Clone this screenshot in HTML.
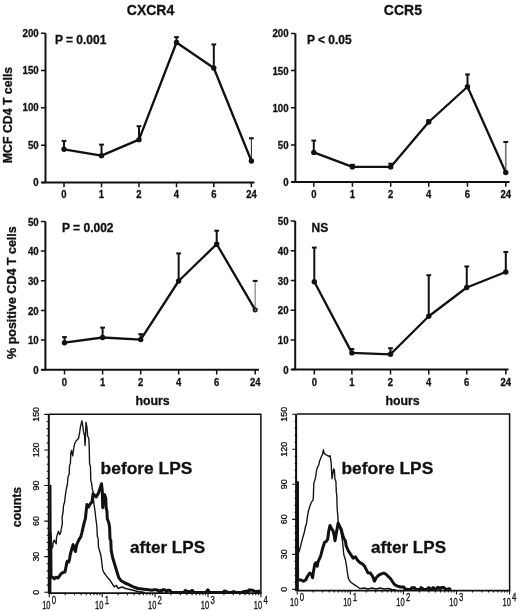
<!DOCTYPE html><html><head><meta charset="utf-8"><style>
html,body{margin:0;padding:0;background:#fff;width:520px;height:611px;overflow:hidden}
svg{display:block;filter:blur(0.3px)}
text{font-family:"Liberation Sans", sans-serif;fill:#111;stroke:#111;stroke-width:0.3px}
.tk{font-weight:bold;font-size:10.3px}
.ti{font-weight:bold;font-size:14px}
.pv{font-weight:bold;font-size:12px}
.ax{font-weight:bold;font-size:12.3px}
.lp{font-weight:bold;font-size:17px}
.hn{font-size:8.9px}
.hx{font-size:10px;stroke:#111;stroke-width:0.3px}
.hs{font-size:10.4px;stroke:#111;stroke-width:0.3px}
</style></head><body>
<svg width="520" height="611" viewBox="0 0 520 611">
<text x="150.5" y="14.9" text-anchor="middle" class="ti">CXCR4</text>
<text x="402.9" y="14.9" text-anchor="middle" class="ti">CCR5</text>
<path d="M45.5 33.2V182.5M41.5 182.5H254.5" stroke="#111" stroke-width="2" fill="none"/>
<path d="M41 182.5H45.5M41 145.18H45.5M41 107.85H45.5M41 70.52H45.5M41 33.2H45.5" stroke="#111" stroke-width="1.5"/>
<path d="M64 182.5V187.3M101.5 182.5V187.3M139 182.5V187.3M176.5 182.5V187.3M213.8 182.5V187.3M251.4 182.5V187.3" stroke="#111" stroke-width="1.5"/>
<text transform="translate(38.7 185.9) scale(0.94 1)" text-anchor="end" class="tk">0</text>
<text transform="translate(38.7 148.58) scale(0.94 1)" text-anchor="end" class="tk">50</text>
<text transform="translate(38.7 111.25) scale(0.94 1)" text-anchor="end" class="tk">100</text>
<text transform="translate(38.7 73.92) scale(0.94 1)" text-anchor="end" class="tk">150</text>
<text transform="translate(38.7 36.6) scale(0.94 1)" text-anchor="end" class="tk">200</text>
<text transform="translate(64 198.4) scale(0.92 1)" text-anchor="middle" class="tk">0</text>
<text transform="translate(101.5 198.4) scale(0.92 1)" text-anchor="middle" class="tk">1</text>
<text transform="translate(139 198.4) scale(0.92 1)" text-anchor="middle" class="tk">2</text>
<text transform="translate(176.5 198.4) scale(0.92 1)" text-anchor="middle" class="tk">4</text>
<text transform="translate(213.8 198.4) scale(0.92 1)" text-anchor="middle" class="tk">6</text>
<text transform="translate(251.4 198.4) scale(0.92 1)" text-anchor="middle" class="tk">24</text>
<path d="M64 149.28V140.7" stroke="#111" stroke-width="2"/>
<path d="M61.6 140.9H66.4" stroke="#111" stroke-width="2"/>
<path d="M101.5 155.63V144.43" stroke="#111" stroke-width="2"/>
<path d="M99.1 144.63H103.9" stroke="#111" stroke-width="2"/>
<path d="M139 139.65V125.99" stroke="#111" stroke-width="2"/>
<path d="M136.6 126.19H141.4" stroke="#111" stroke-width="2"/>
<path d="M176.5 42.53V36.93" stroke="#111" stroke-width="2"/>
<path d="M174.1 37.13H178.9" stroke="#111" stroke-width="2"/>
<path d="M213.8 67.99V44.25" stroke="#111" stroke-width="2"/>
<path d="M211.4 44.45H216.2" stroke="#111" stroke-width="2"/>
<path d="M251.4 161V138.08" stroke="#333" stroke-width="1.1"/>
<path d="M249 138.28H253.8" stroke="#111" stroke-width="2"/>
<polyline points="64,149.28 101.5,155.63 139,139.65 176.5,42.53 213.8,67.99 251.4,161" fill="none" stroke="#111" stroke-width="2.3" stroke-linejoin="round"/>
<circle cx="64" cy="149.28" r="2.7" fill="#111"/>
<circle cx="101.5" cy="155.63" r="2.7" fill="#111"/>
<circle cx="139" cy="139.65" r="2.7" fill="#111"/>
<circle cx="176.5" cy="42.53" r="2.7" fill="#111"/>
<circle cx="213.8" cy="67.99" r="2.7" fill="#111"/>
<circle cx="251.4" cy="161" r="2.7" fill="#111"/>
<text x="54.9" y="44" class="pv">P = 0.001</text>
<text transform="translate(12.1 115) rotate(-90)" text-anchor="middle" class="ax">MCF CD4 T cells</text>
<path d="M295.4 33.5V182M291.5 182H509.5" stroke="#111" stroke-width="2" fill="none"/>
<path d="M290.9 182H295.4M290.9 144.88H295.4M290.9 107.75H295.4M290.9 70.62H295.4M290.9 33.5H295.4" stroke="#111" stroke-width="1.5"/>
<path d="M313.8 182V186.8M352.4 182V186.8M390.7 182V186.8M428.75 182V186.8M467.5 182V186.8M505.75 182V186.8" stroke="#111" stroke-width="1.5"/>
<text transform="translate(288.6 185.9) scale(0.94 1)" text-anchor="end" class="tk">0</text>
<text transform="translate(288.6 148.78) scale(0.94 1)" text-anchor="end" class="tk">50</text>
<text transform="translate(288.6 111.65) scale(0.94 1)" text-anchor="end" class="tk">100</text>
<text transform="translate(288.6 74.52) scale(0.94 1)" text-anchor="end" class="tk">150</text>
<text transform="translate(288.6 37.4) scale(0.94 1)" text-anchor="end" class="tk">200</text>
<text transform="translate(313.8 197.9) scale(0.92 1)" text-anchor="middle" class="tk">0</text>
<text transform="translate(352.4 197.9) scale(0.92 1)" text-anchor="middle" class="tk">1</text>
<text transform="translate(390.7 197.9) scale(0.92 1)" text-anchor="middle" class="tk">2</text>
<text transform="translate(428.75 197.9) scale(0.92 1)" text-anchor="middle" class="tk">4</text>
<text transform="translate(467.5 197.9) scale(0.92 1)" text-anchor="middle" class="tk">6</text>
<text transform="translate(505.75 197.9) scale(0.92 1)" text-anchor="middle" class="tk">24</text>
<path d="M313.8 152.4V140.4" stroke="#111" stroke-width="2"/>
<path d="M311.4 140.6H316.2" stroke="#111" stroke-width="2"/>
<path d="M352.4 166.9V164.6" stroke="#111" stroke-width="2"/>
<path d="M350 164.8H354.8" stroke="#111" stroke-width="2"/>
<path d="M390.7 166.9V163.5" stroke="#111" stroke-width="2"/>
<path d="M388.3 163.7H393.1" stroke="#111" stroke-width="2"/>
<path d="M428.75 122V120" stroke="#111" stroke-width="2"/>
<path d="M426.35 120.2H431.15" stroke="#111" stroke-width="2"/>
<path d="M467.5 86.75V74.25" stroke="#111" stroke-width="2"/>
<path d="M465.1 74.45H469.9" stroke="#111" stroke-width="2"/>
<path d="M505.75 172.5V141.75" stroke="#777" stroke-width="1.7"/>
<path d="M503.35 141.95H508.15" stroke="#111" stroke-width="2"/>
<polyline points="313.8,152.4 352.4,166.9 390.7,166.9 428.75,122 467.5,86.75 505.75,172.5" fill="none" stroke="#111" stroke-width="2.3" stroke-linejoin="round"/>
<circle cx="313.8" cy="152.4" r="2.7" fill="#111"/>
<circle cx="352.4" cy="166.9" r="2.7" fill="#111"/>
<circle cx="390.7" cy="166.9" r="2.7" fill="#111"/>
<circle cx="428.75" cy="122" r="2.7" fill="#111"/>
<circle cx="467.5" cy="86.75" r="2.7" fill="#111"/>
<circle cx="505.75" cy="172.5" r="2.7" fill="#111"/>
<text x="306.9" y="43.8" class="pv">P &lt; 0.05</text>
<path d="M45.4 221.4V369.8M41.5 369.8H259" stroke="#111" stroke-width="2" fill="none"/>
<path d="M40.9 369.8H45.4M40.9 340.12H45.4M40.9 310.44H45.4M40.9 280.76H45.4M40.9 251.08H45.4M40.9 221.4H45.4" stroke="#111" stroke-width="1.5"/>
<path d="M64.5 369.8V374.6M102.6 369.8V374.6M140.7 369.8V374.6M178.65 369.8V374.6M216.7 369.8V374.6M255.2 369.8V374.6" stroke="#111" stroke-width="1.5"/>
<text transform="translate(38.7 373.9) scale(0.94 1)" text-anchor="end" class="tk">0</text>
<text transform="translate(38.7 344.22) scale(0.94 1)" text-anchor="end" class="tk">10</text>
<text transform="translate(38.7 314.54) scale(0.94 1)" text-anchor="end" class="tk">20</text>
<text transform="translate(38.7 284.86) scale(0.94 1)" text-anchor="end" class="tk">30</text>
<text transform="translate(38.7 255.18) scale(0.94 1)" text-anchor="end" class="tk">40</text>
<text transform="translate(38.7 225.5) scale(0.94 1)" text-anchor="end" class="tk">50</text>
<text transform="translate(64.5 386.3) scale(0.92 1)" text-anchor="middle" class="tk">0</text>
<text transform="translate(102.6 386.3) scale(0.92 1)" text-anchor="middle" class="tk">1</text>
<text transform="translate(140.7 386.3) scale(0.92 1)" text-anchor="middle" class="tk">2</text>
<text transform="translate(178.65 386.3) scale(0.92 1)" text-anchor="middle" class="tk">4</text>
<text transform="translate(216.7 386.3) scale(0.92 1)" text-anchor="middle" class="tk">6</text>
<text transform="translate(255.2 386.3) scale(0.92 1)" text-anchor="middle" class="tk">24</text>
<path d="M64.5 342.7V336.9" stroke="#111" stroke-width="2"/>
<path d="M62.1 337.1H66.9" stroke="#111" stroke-width="2"/>
<path d="M102.6 337.5V327.4" stroke="#111" stroke-width="2"/>
<path d="M100.2 327.6H105" stroke="#111" stroke-width="2"/>
<path d="M140.7 339.6V334" stroke="#111" stroke-width="2"/>
<path d="M138.3 334.2H143.1" stroke="#111" stroke-width="2"/>
<path d="M178.65 281V253.2" stroke="#111" stroke-width="2"/>
<path d="M176.25 253.4H181.05" stroke="#111" stroke-width="2"/>
<path d="M216.7 244.1V230.5" stroke="#111" stroke-width="2"/>
<path d="M214.3 230.7H219.1" stroke="#111" stroke-width="2"/>
<path d="M255.2 309.8V280.7" stroke="#999" stroke-width="1.5"/>
<path d="M252.8 280.9H257.6" stroke="#111" stroke-width="2"/>
<polyline points="64.5,342.7 102.6,337.5 140.7,339.6 178.65,281 216.7,244.1 255.2,309.8" fill="none" stroke="#111" stroke-width="2.3" stroke-linejoin="round"/>
<circle cx="64.5" cy="342.7" r="2.7" fill="#111"/>
<circle cx="102.6" cy="337.5" r="2.7" fill="#111"/>
<circle cx="140.7" cy="339.6" r="2.7" fill="#111"/>
<circle cx="178.65" cy="281" r="2.7" fill="#111"/>
<circle cx="216.7" cy="244.1" r="2.7" fill="#111"/>
<circle cx="255.2" cy="309.8" r="2.6" fill="#222"/>
<circle cx="255.6" cy="310.1" r="0.8" fill="#999"/>
<text x="62" y="231.8" class="pv">P = 0.002</text>
<text transform="translate(16.3 292.6) rotate(-90)" text-anchor="middle" class="ax" style="font-size:12.5px">% positive CD4 T cells</text>
<text x="152.5" y="404.6" text-anchor="middle" class="ax">hours</text>
<path d="M295.2 221.1V369.6M291.5 369.6H508.5" stroke="#111" stroke-width="2" fill="none"/>
<path d="M290.7 369.6H295.2M290.7 339.9H295.2M290.7 310.2H295.2M290.7 280.5H295.2M290.7 250.8H295.2M290.7 221.1H295.2" stroke="#111" stroke-width="1.5"/>
<path d="M314.3 369.6V374.4M351.9 369.6V374.4M390.5 369.6V374.4M428.75 369.6V374.4M466.75 369.6V374.4M505.8 369.6V374.4" stroke="#111" stroke-width="1.5"/>
<text transform="translate(288.6 373.6) scale(0.94 1)" text-anchor="end" class="tk">0</text>
<text transform="translate(288.6 343.9) scale(0.94 1)" text-anchor="end" class="tk">10</text>
<text transform="translate(288.6 314.2) scale(0.94 1)" text-anchor="end" class="tk">20</text>
<text transform="translate(288.6 284.5) scale(0.94 1)" text-anchor="end" class="tk">30</text>
<text transform="translate(288.6 254.8) scale(0.94 1)" text-anchor="end" class="tk">40</text>
<text transform="translate(288.6 225.1) scale(0.94 1)" text-anchor="end" class="tk">50</text>
<text transform="translate(314.3 385.9) scale(0.92 1)" text-anchor="middle" class="tk">0</text>
<text transform="translate(351.9 385.9) scale(0.92 1)" text-anchor="middle" class="tk">1</text>
<text transform="translate(390.5 385.9) scale(0.92 1)" text-anchor="middle" class="tk">2</text>
<text transform="translate(428.75 385.9) scale(0.92 1)" text-anchor="middle" class="tk">4</text>
<text transform="translate(466.75 385.9) scale(0.92 1)" text-anchor="middle" class="tk">6</text>
<text transform="translate(505.8 385.9) scale(0.92 1)" text-anchor="middle" class="tk">24</text>
<path d="M314.3 281.8V247.4" stroke="#111" stroke-width="2"/>
<path d="M311.9 247.6H316.7" stroke="#111" stroke-width="2"/>
<path d="M351.9 352.9V348.8" stroke="#111" stroke-width="2"/>
<path d="M349.5 349H354.3" stroke="#111" stroke-width="2"/>
<path d="M390.5 354.3V348" stroke="#111" stroke-width="2"/>
<path d="M388.1 348.2H392.9" stroke="#111" stroke-width="2"/>
<path d="M428.75 316.25V275" stroke="#111" stroke-width="2"/>
<path d="M426.35 275.2H431.15" stroke="#111" stroke-width="2"/>
<path d="M466.75 287.5V266.25" stroke="#111" stroke-width="2"/>
<path d="M464.35 266.45H469.15" stroke="#111" stroke-width="2"/>
<path d="M505.8 272V251.75" stroke="#111" stroke-width="2"/>
<path d="M503.4 251.95H508.2" stroke="#111" stroke-width="2"/>
<polyline points="314.3,281.8 351.9,352.9 390.5,354.3 428.75,316.25 466.75,287.5 505.8,272" fill="none" stroke="#111" stroke-width="2.3" stroke-linejoin="round"/>
<circle cx="314.3" cy="281.8" r="2.7" fill="#111"/>
<circle cx="351.9" cy="352.9" r="2.7" fill="#111"/>
<circle cx="390.5" cy="354.3" r="2.7" fill="#111"/>
<circle cx="428.75" cy="316.25" r="2.7" fill="#111"/>
<circle cx="466.75" cy="287.5" r="2.7" fill="#111"/>
<circle cx="505.8" cy="272" r="2.7" fill="#111"/>
<text x="311.6" y="231.8" class="pv">NS</text>
<text x="402.5" y="404.6" text-anchor="middle" class="ax">hours</text>
<path d="M48.8 414.2V593.8" stroke="#111" stroke-width="2.0"/>
<path d="M49.3 414.2H260.9V593.2" stroke="#111" stroke-width="1.5" fill="none"/>
<path d="M49.3 593.2H261.6" stroke="#111" stroke-width="1.8" fill="none"/>
<path d="M44.3 592.2H49.3M46.7 585.09H49.3M46.7 577.98H49.3M46.7 570.86H49.3M46.7 563.75H49.3M44.3 556.64H49.3M46.7 549.53H49.3M46.7 542.42H49.3M46.7 535.3H49.3M46.7 528.19H49.3M44.3 521.08H49.3M46.7 513.97H49.3M46.7 506.86H49.3M46.7 499.74H49.3M46.7 492.63H49.3M44.3 485.52H49.3M46.7 478.41H49.3M46.7 471.3H49.3M46.7 464.18H49.3M46.7 457.07H49.3M44.3 449.96H49.3M46.7 442.85H49.3M46.7 435.74H49.3M46.7 428.62H49.3M46.7 421.51H49.3M44.3 414.4H49.3" stroke="#111" stroke-width="1.1"/>
<path d="M49.3 593.2V597.2M65.22 593.2V595.2M74.54 593.2V595.2M81.15 593.2V595.2M86.28 593.2V595.2M90.46 593.2V595.2M94.01 593.2V595.2M97.07 593.2V595.2M99.78 593.2V595.2M102.2 593.2V597.2M118.12 593.2V595.2M127.44 593.2V595.2M134.05 593.2V595.2M139.18 593.2V595.2M143.36 593.2V595.2M146.91 593.2V595.2M149.97 593.2V595.2M152.68 593.2V595.2M155.1 593.2V597.2M171.02 593.2V595.2M180.34 593.2V595.2M186.95 593.2V595.2M192.08 593.2V595.2M196.26 593.2V595.2M199.81 593.2V595.2M202.87 593.2V595.2M205.58 593.2V595.2M208 593.2V597.2M223.92 593.2V595.2M233.24 593.2V595.2M239.85 593.2V595.2M244.98 593.2V595.2M249.16 593.2V595.2M252.71 593.2V595.2M255.77 593.2V595.2M258.48 593.2V595.2M260.9 593.2V597.2" stroke="#111" stroke-width="1.1"/>
<text transform="translate(39.4 592.2) rotate(-90)" text-anchor="middle" class="hn">0</text>
<text transform="translate(39.4 556.64) rotate(-90)" text-anchor="middle" class="hn">30</text>
<text transform="translate(39.4 521.08) rotate(-90)" text-anchor="middle" class="hn">60</text>
<text transform="translate(39.4 485.52) rotate(-90)" text-anchor="middle" class="hn">90</text>
<text transform="translate(39.4 449.96) rotate(-90)" text-anchor="middle" class="hn">120</text>
<text transform="translate(39.4 414.4) rotate(-90)" text-anchor="middle" class="hn">150</text>
<text transform="translate(50.5 608.9) scale(0.75 1)" text-anchor="end" class="hx">10</text>
<text transform="translate(51.8 603.9) scale(0.75 1)" class="hs">0</text>
<text transform="translate(103.4 608.9) scale(0.75 1)" text-anchor="end" class="hx">10</text>
<text transform="translate(104.7 603.9) scale(0.75 1)" class="hs">1</text>
<text transform="translate(156.3 608.9) scale(0.75 1)" text-anchor="end" class="hx">10</text>
<text transform="translate(157.6 603.9) scale(0.75 1)" class="hs">2</text>
<text transform="translate(209.2 608.9) scale(0.75 1)" text-anchor="end" class="hx">10</text>
<text transform="translate(210.5 603.9) scale(0.75 1)" class="hs">3</text>
<text transform="translate(262.1 608.9) scale(0.75 1)" text-anchor="end" class="hx">10</text>
<text transform="translate(263.4 603.9) scale(0.75 1)" class="hs">4</text>
<polyline points="50.2,593 50.2,485.5 50.8,485.5 51,549 52.7,547 53.1,543 54.2,540 55,541.5 56.2,543.8 56.5,537.7 57.3,534.6 58.5,531.2 59.6,534.6 60.8,532.3 61.2,529.2 62.3,524 62.1,517.3 63.1,512 63.5,505.8 64.6,502 65.4,495 66.5,488 67.3,485 67.7,481.2 68.1,476.5 69.2,474.2 69.5,465.8 70.4,463.5 70.8,453.5 71.5,450.4 72.7,455.8 73.5,449.6 74.6,443.8 76.2,440.8 78.5,438.5 79.6,433 80.4,427 81.2,423.8 81.9,420.8 82.7,425.4 83.5,431.5 84.6,436 85,445.4 85.4,439 86,422.3 86.9,427 87.7,436 88.8,438.5 89.2,447 89.6,464.2 90.4,465.8 90.8,480.4 91.5,482.7 92.3,489.2 93.1,491.5 93.8,503 95,510.8 95.8,518.5 96.2,521.2 96.9,526.5 97.3,536.5 98.1,538 98.5,547.3 100.4,553.5 101.2,557.7 102.7,570 104.2,573 106.5,576.2 110.4,580.8 114.2,586.9 116.5,585.4 118,588.5 121.9,587 125.8,588.5 131.9,590 138,591.5 145,592.3" fill="none" stroke="#111" stroke-width="1.35" stroke-linejoin="round"/>
<polyline points="49.9,592.5 50.2,533.5 50.8,545 51,577 52.7,577.3 54.2,578.8 55.8,577.3 58.1,578 59.6,575.8 61.2,573.5 63.5,572.3 65,572 65.8,568 66.5,564.2 67.3,561.2 68.8,562 69.6,558.8 70.4,553.8 71.9,548.5 73.1,544.6 73.8,547.7 75.4,551.5 76.5,545.4 78.1,541.5 79.6,538.5 80.8,537 81.9,532.7 83.1,527.3 84.2,522.7 85.4,518.5 86.9,504.6 88.5,507 90.8,503 91.9,502.3 93.1,493.8 96.2,497 98.5,493 100,488.5 101.5,483.8 102.3,490.8 102.7,507.7 103.8,498.5 104.6,494.6 105.8,498.5 106.2,508.5 106.9,510.8 107.3,518.8 108.8,522.7 109.6,527.3 110,538.8 110.8,540.4 111.2,550.4 112.7,557.7 115,565.4 117.3,573 118.8,577.7 121.2,580.8 125,583 128.8,584.6 133.5,587 138.1,588.5 144.2,589.2 150.4,590 151.79,590.3 153.26,589.8 154.35,589.8 155.79,589.8 157.88,590.3 158.92,591.6 160.43,590.3 161.54,591.6 162.61,589.8 164.74,589.8 166.44,591.6 167.5,590.3 168.55,590.3 169.9,590.3 171.55,592.5 173.23,592.5 174.91,592.5 176.72,592.5 177.85,592.5 179.53,592.5 180.76,592.5 181.87,592.5 183.73,592.5 185.41,590.3 187,591.6 188.94,591.6 190.64,591.6 192.07,590.3 194.02,592.5 195.86,592.5 197.16,592.5 198.85,592.5 200.48,592.5 202.53,592.5 204.4,592.5 205.75,592.5 207.92,589.8 209.54,592.5 210.74,592.5 212.15,592.5 214.27,592.5 215.77,592.5 217.93,592.5 219.02,592.5 220.69,592.5 222.64,592.5 224.62,591 226.45,591.6 228.15,592.5 229.7,592.5 231.7,592.5 233.84,591.6 235.67,592.5 236.75,592.5 238.63,592.5 240,592.5 241.69,592.5 243.51,591.6 244.85,591.6 246.92,591 247.94,591.6 249.37,589.8 250.96,590.3 252.89,590.3 254.77,591.6 256.24,591.6 257.34,591.6 258.82,591 259.8,592.5" fill="none" stroke="#111" stroke-width="3" stroke-linejoin="round"/>
<path d="M296.1 414V591.2" stroke="#111" stroke-width="2.0"/>
<path d="M297.2 414H509.6V590.6" stroke="#111" stroke-width="1.5" fill="none"/>
<path d="M297.2 590.6H510.3" stroke="#111" stroke-width="1.8" fill="none"/>
<path d="M292.2 589.4H297.2M294.6 582.39H297.2M294.6 575.39H297.2M294.6 568.38H297.2M294.6 561.38H297.2M292.2 554.37H297.2M294.6 547.36H297.2M294.6 540.36H297.2M294.6 533.35H297.2M294.6 526.35H297.2M292.2 519.34H297.2M294.6 512.33H297.2M294.6 505.33H297.2M294.6 498.32H297.2M294.6 491.32H297.2M292.2 484.31H297.2M294.6 477.3H297.2M294.6 470.3H297.2M294.6 463.29H297.2M294.6 456.29H297.2M292.2 449.28H297.2M294.6 442.27H297.2M294.6 435.27H297.2M294.6 428.26H297.2M294.6 421.26H297.2M292.2 414.25H297.2" stroke="#111" stroke-width="1.1"/>
<path d="M297.2 590.6V594.6M313.18 590.6V592.6M322.54 590.6V592.6M329.17 590.6V592.6M334.32 590.6V592.6M338.52 590.6V592.6M342.07 590.6V592.6M345.15 590.6V592.6M347.87 590.6V592.6M350.3 590.6V594.6M366.28 590.6V592.6M375.64 590.6V592.6M382.27 590.6V592.6M387.42 590.6V592.6M391.62 590.6V592.6M395.17 590.6V592.6M398.25 590.6V592.6M400.97 590.6V592.6M403.4 590.6V594.6M419.38 590.6V592.6M428.74 590.6V592.6M435.37 590.6V592.6M440.52 590.6V592.6M444.72 590.6V592.6M448.27 590.6V592.6M451.35 590.6V592.6M454.07 590.6V592.6M456.5 590.6V594.6M472.48 590.6V592.6M481.84 590.6V592.6M488.47 590.6V592.6M493.62 590.6V592.6M497.82 590.6V592.6M501.37 590.6V592.6M504.45 590.6V592.6M507.17 590.6V592.6M509.6 590.6V594.6" stroke="#111" stroke-width="1.1"/>
<text transform="translate(287.4 589.4) rotate(-90)" text-anchor="middle" class="hn">0</text>
<text transform="translate(287.4 554.37) rotate(-90)" text-anchor="middle" class="hn">30</text>
<text transform="translate(287.4 519.34) rotate(-90)" text-anchor="middle" class="hn">60</text>
<text transform="translate(287.4 484.31) rotate(-90)" text-anchor="middle" class="hn">90</text>
<text transform="translate(287.4 449.28) rotate(-90)" text-anchor="middle" class="hn">120</text>
<text transform="translate(287.4 414.25) rotate(-90)" text-anchor="middle" class="hn">150</text>
<text transform="translate(298.4 606.3) scale(0.75 1)" text-anchor="end" class="hx">10</text>
<text transform="translate(299.7 601.3) scale(0.75 1)" class="hs">0</text>
<text transform="translate(351.5 606.3) scale(0.75 1)" text-anchor="end" class="hx">10</text>
<text transform="translate(352.8 601.3) scale(0.75 1)" class="hs">1</text>
<text transform="translate(404.6 606.3) scale(0.75 1)" text-anchor="end" class="hx">10</text>
<text transform="translate(405.9 601.3) scale(0.75 1)" class="hs">2</text>
<text transform="translate(457.7 606.3) scale(0.75 1)" text-anchor="end" class="hx">10</text>
<text transform="translate(459 601.3) scale(0.75 1)" class="hs">3</text>
<text transform="translate(510.8 606.3) scale(0.75 1)" text-anchor="end" class="hx">10</text>
<text transform="translate(512.1 601.3) scale(0.75 1)" class="hs">4</text>
<polyline points="297.5,590 297.8,553 298.8,552.3 299.9,548.8 301.1,544.2 302.2,539.6 304.1,533.3 305.5,526.5 306.5,523.7 307.4,516.9 308.4,511.2 309.8,506.3 311.3,502.5 313.2,499.6 313.5,492.9 313.8,483.5 314.7,480.6 315.7,476.7 316.6,470 317.6,467.1 319,464.2 319.5,461.3 321,457.5 322.4,454.6 323.4,449.8 324.3,453.7 325.8,454.6 327.7,455.6 329.1,456.5 330.1,455.6 331.1,462.3 331.5,470 332,478.7 333,472.9 333.5,469 334.4,470 334.9,478.7 335.9,481.5 336.3,492 336.8,495.8 337.2,509.2 337.7,514.6 338.2,522.7 340,528 341.5,535 342.6,541.9 343.8,554.6 345.5,560 346.5,566 347.3,572 348.5,578.8 350.8,582.3 354.2,584.6 357.7,587 360,588.7 364,588 368,589 372,588 376,589 380,588 384,589 388,588.5 392,589.5 396,590" fill="none" stroke="#111" stroke-width="1.35" stroke-linejoin="round"/>
<polyline points="297.3,590 297.3,482.5 297.5,482.5 297.6,580 301.1,580 303.4,581.2 305.7,580 307.4,576.5 309.7,573.1 311.5,574.2 312.6,577.7 313.2,573.1 314.9,563.8 316.1,562.7 317.2,566.2 318,562 320.7,555.8 322.3,549.5 324.6,542.3 326.2,541.5 327.7,539.2 328.8,530.8 330,525.4 331.5,528.5 333.1,530.8 334.2,535.4 335,540.8 336.2,533.8 337.3,527.7 338.1,523 339.6,526.2 341.5,530 342.3,533.8 343.5,537.7 345.4,541 346.2,546 348.5,551.2 350.8,554.6 353.1,558.1 355.4,556.9 357.7,560.4 360,562.7 362.3,563.8 364.6,566.2 366.3,569.6 368.1,573.1 370.4,573.1 372.7,576.5 374.4,581.2 376.2,577.7 378.5,575.4 380.8,574.2 383.7,573.1 386,574.2 388.3,576.5 390.6,578.8 392.9,582.3 394.6,584.6 396.9,585.8 400.4,587 403.8,587 405.11,589.4 406.78,589.2 408.08,589.4 409.16,589.4 410.48,589.4 412.1,587.6 413.4,588.2 414.38,587.6 415.82,589.2 417.59,589.4 419.07,589.4 419.98,589.4 420.94,587.6 422.01,588.2 423.45,589.2 424.65,589.4 426.3,589.4 427.41,588.8 428.76,587.6 430.08,588.8 431.34,589.4 433.14,587.6 434.67,588.8 436.26,589.4 437.42,587.6 438.82,587.6 440.08,588.8 441.33,587.6 442.99,587.6 444.09,587.6 445.41,589.2 446.69,589.4 448.15,588.8 449.36,588.8 451,589.6" fill="none" stroke="#111" stroke-width="3" stroke-linejoin="round"/>
<text transform="translate(21 507) rotate(-90)" text-anchor="middle" class="ax">counts</text>
<text x="100.6" y="473.9" class="lp" style="font-size:17.4px">before LPS</text>
<text x="130" y="553" class="lp" style="font-size:17.1px">after LPS</text>
<text x="341.5" y="473.9" class="lp" style="font-size:17.4px">before LPS</text>
<text x="371" y="552.8" class="lp" style="font-size:17.1px">after LPS</text>
</svg></body></html>
